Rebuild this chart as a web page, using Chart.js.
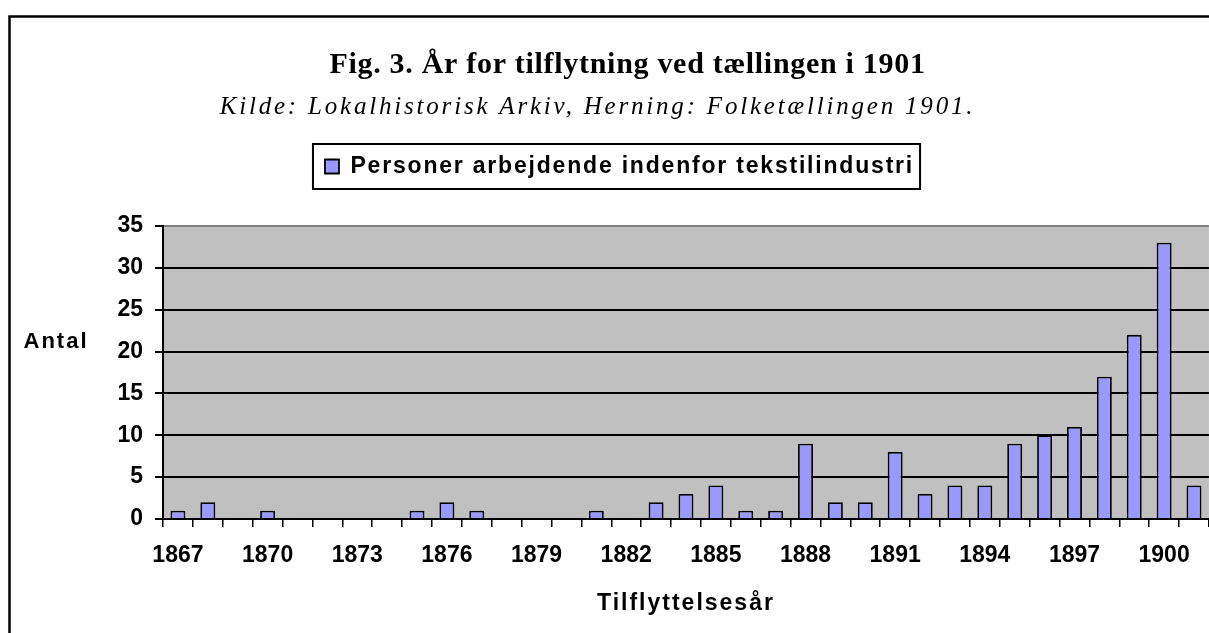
<!DOCTYPE html>
<html>
<head>
<meta charset="utf-8">
<script src="https://cdn.jsdelivr.net/npm/chart.js@4.4.1/dist/chart.umd.min.js"></script>
<style>
html,body{margin:0;padding:0;background:#fff;}
#wrap{width:1209px;height:633px;position:relative;overflow:hidden;}
canvas{display:block;}
</style>
</head>
<body>
<div id="wrap"><canvas id="c" width="1209" height="633"></canvas></div>
<script>
// ---- data ----
const years = ['1867','1868','1869','1870','1871','1872','1873','1874','1875','1876',
               '1877','1878','1879','1880','1881','1882','1883','1884','1885','1886',
               '1887','1888','1889','1890','1891','1892','1893','1894','1895','1896',
               '1897','1898','1899','1900','1901'];
const persons = [1,2,0,1,0,0,0,0,1,2,
                 1,0,0,0,1,0,2,3,4,1,
                 1,9,2,2,8,3,4,4,9,10,
                 11,17,22,33,4];
const tickYears = ['1867','1870','1873','1876','1879','1882','1885','1888','1891','1894','1897','1900'];
const yTicks = [0,5,10,15,20,25,30,35];
const titleText = 'Fig. 3. År for tilflytning ved tællingen i 1901';
const subtitleText = 'Kilde: Lokalhistorisk Arkiv, Herning: Folketællingen 1901.';
const seriesName = 'Personer arbejdende indenfor tekstilindustri';
const yTitle = 'Antal';
const xTitle = 'Tilflyttelsesår';

const SANS = '"Liberation Sans", Arial, sans-serif';
const SERIF = '"Liberation Serif", "Times New Roman", serif';

// wrap a method so it runs with a given letter spacing and horizontal shift
function wrapDraw(obj, method, ctx, spacing, dx) {
  if (!obj || obj['_w_' + method]) return;
  const orig = obj[method];
  obj[method] = function () {
    ctx.save();
    ctx.letterSpacing = spacing;
    if (dx) ctx.translate(dx, 0);
    const r = orig.apply(this, arguments);
    ctx.restore();
    ctx.letterSpacing = '0px';
    return r;
  };
  obj['_w_' + method] = true;
}

const LEGEND_DX = 15;

// ---- plugins ----
const backgroundPlugin = {
  id: 'bg',
  beforeDraw(chart) {
    const {ctx, chartArea: a} = chart;
    ctx.save();
    ctx.fillStyle = '#ffffff';
    ctx.fillRect(0, 0, chart.width, chart.height);
    ctx.fillStyle = '#C0C0C0';
    ctx.fillRect(a.left, a.top, a.right - a.left, a.bottom - a.top);
    ctx.restore();
  }
};

const textStylePlugin = {
  id: 'textStyle',
  beforeLayout(chart) {
    const lg = chart.legend;
    const ctx = chart.ctx;
    if (lg && !lg._gapWrapped) {
      const origFit = lg.fit;
      lg.fit = function () {
        ctx.save();
        ctx.letterSpacing = '1.8px';
        origFit.call(this);
        ctx.restore();
        ctx.letterSpacing = '0px';
        this.height += 38;
      };
      lg._gapWrapped = true;
      wrapDraw(lg, 'draw', ctx, '1.8px', LEGEND_DX);
    }
  },
  beforeDraw(chart) {
    const ctx = chart.ctx;
    chart.boxes.forEach(b => {
      if (b.options && b.options.text === titleText) wrapDraw(b, 'draw', ctx, '0.7px', 23);
      if (b.options && b.options.text === subtitleText) wrapDraw(b, 'draw', ctx, '2.8px', -7);
    });
    wrapDraw(chart.scales.x, 'drawTitle', ctx, '2px', 0);
  }
};

const decorPlugin = {
  id: 'decor',
  afterDraw(chart) {
    const ctx = chart.ctx;
    ctx.save();
    // outer frame
    ctx.strokeStyle = '#000';
    ctx.lineWidth = 2.5;
    ctx.beginPath();
    ctx.moveTo(9.5, 640);
    ctx.lineTo(9.5, 16.5);
    ctx.lineTo(1215, 16.5);
    ctx.stroke();
    // legend border box
    const hb = chart.legend && chart.legend.legendHitBoxes && chart.legend.legendHitBoxes[0];
    if (hb) {
      const cy = hb.top + hb.height / 2;
      ctx.lineWidth = 2;
      ctx.strokeRect(hb.left + LEGEND_DX - 12, cy - 22.5, hb.width + 18, 45);
    }
    // horizontal y-axis title
    ctx.fillStyle = '#000';
    ctx.font = 'bold 22px ' + SANS;
    ctx.letterSpacing = '2px';
    ctx.textAlign = 'center';
    ctx.textBaseline = 'middle';
    ctx.fillText(yTitle, 56, 342);
    ctx.restore();
    ctx.letterSpacing = '0px';
  }
};

// ---- chart ----
new Chart(document.getElementById('c'), {
  type: 'bar',
  data: {
    labels: years,
    datasets: [{
      label: seriesName,
      data: persons,
      backgroundColor: '#9999FF',
      borderColor: '#000000',
      borderWidth: 1.8,
      barPercentage: 0.5,
      categoryPercentage: 1.0
    }]
  },
  options: {
    responsive: false,
    animation: false,
    devicePixelRatio: 1,
    layout: {padding: {left: 0, right: 0, top: 0, bottom: 0}},
    plugins: {
      title: {
        display: true,
        text: titleText,
        color: '#000',
        font: {family: SERIF, size: 30, weight: 'bold', lineHeight: 1.2},
        padding: {top: 47, bottom: 0}
      },
      subtitle: {
        display: true,
        text: subtitleText,
        color: '#000',
        font: {family: SERIF, size: 25, style: 'italic', weight: 'normal', lineHeight: 1.2},
        padding: {top: 9, bottom: 23}
      },
      legend: {
        display: true,
        position: 'top',
        labels: {
          color: '#000',
          font: {family: SANS, size: 23, weight: 'bold'},
          boxWidth: 14,
          boxHeight: 14,
          padding: 10
        }
      },
      tooltip: {enabled: false}
    },
    scales: {
      x: {
        offset: true,
        afterFit(scale) { scale.height = 114; },
        grid: {
          display: true,
          offset: true,
          drawOnChartArea: false,
          drawTicks: true,
          tickLength: 8,
          color: '#000',
          tickColor: '#000',
          lineWidth: 1.5
        },
        border: {display: true, color: '#000', width: 2},
        ticks: {
          autoSkip: false,
          maxRotation: 0,
          minRotation: 0,
          padding: 15,
          color: '#000',
          font: {family: SANS, size: 23, weight: 'bold'},
          callback: function (v, i) {
            const lbl = years[i];
            return tickYears.includes(lbl) ? lbl : '';
          }
        },
        title: {
          display: true,
          text: xTitle,
          color: '#000',
          font: {family: SANS, size: 23, weight: 'bold', lineHeight: 1.2},
          padding: {top: 20, bottom: 16}
        }
      },
      y: {
        min: 0,
        max: 35,
        afterFit(scale) { scale.width = 163; },
        afterBuildTicks(scale) { scale.ticks = yTicks.map(v => ({value: v})); },
        grid: {
          display: true,
          drawOnChartArea: true,
          drawTicks: true,
          tickLength: 8,
          color: (c) => (c.tick && c.tick.value === 35) ? '#808080' : '#000',
          tickColor: '#000',
          lineWidth: 2
        },
        border: {display: true, color: '#000', width: 2},
        ticks: {
          padding: 12,
          color: '#000',
          font: {family: SANS, size: 23, weight: 'bold'}
        }
      }
    }
  },
  plugins: [backgroundPlugin, textStylePlugin, decorPlugin]
});
</script>
</body>
</html>
